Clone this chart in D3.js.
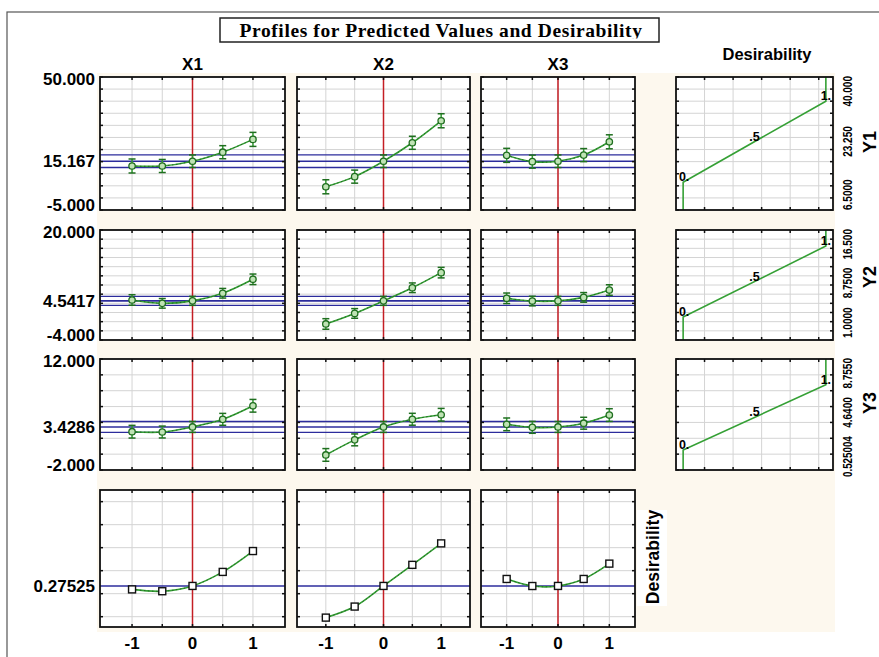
<!DOCTYPE html>
<meta charset="utf-8">
<script src="https://d3js.org/d3.v7.min.js"></script>
<style>
  body { margin: 0; background: #fff; }
  text { font-family: "Liberation Sans", Arial, sans-serif; }
</style>
<svg id="chart" width="879" height="657"></svg>
<script>

// factor levels and names
var levels = [-1, -0.5, 0, 0.5, 1];
var factors = ["X1", "X2", "X3"];
var responses = ["Y1", "Y2", "Y3"];
var xTickLabels = ["-1", "0", "1"];

// predicted values, one array per factor (X1, X2, X3)
var y1Pred = [[13.2, 13.2, 15.167, 18.9, 24.2], [4.6, 8.8, 15.167, 22.8, 31.9], [17.6, 15.0, 15.167, 17.7, 23.2]];
var y2Pred = [[4.73, 4.0, 4.5417, 6.2, 9.24], [-0.5, 1.8, 4.5417, 7.4, 10.7], [5.1, 4.5, 4.5417, 5.3, 6.9]];
var y3Pred = [[2.83, 2.79, 3.4286, 4.39, 6.1], [-0.1, 1.8, 3.4286, 4.4, 4.97], [3.76, 3.38, 3.4286, 3.9, 4.93]];

// confidence half-widths at each level
var y1Err = [2.9, 2.7, 2.6, 2.7, 2.9];
var y2Err = [1.15, 1.05, 0.98, 1.05, 1.15];
var y3Err = [0.8, 0.75, 0.69, 0.75, 0.8];

// current predicted values and their confidence half-widths
var currentValues = [15.167, 4.5417, 3.4286];
var currentCI = [2.6, 0.98, 0.69];
var currentLabels = ["15.167", "4.5417", "3.4286"];

// axis ranges, grid steps and end labels of each response
var yDomains = [[-5, 50], [-4, 20], [-2, 12]];
var yGridSteps = [5, 2, 2];
var yTopLabels = ["50.000", "20.000", "12.000"];
var yBottomLabels = ["-5.000", "-4.000", "-2.000"];

// desirability function: response at d = 0 and at d = 1
var desLow = [6.5, 1.0, 0.525004];
var desHigh = [40.0, 16.5, 8.755];
var desAxisLabels = [["6.5000", "23.250", "40.000"], ["1.0000", "8.7500", "16.500"], ["0.525004", "4.6400", "8.7550"]];
var desPointLabels = ["0.", ".5", "1."];

// overall desirability, one array per factor
var desirability = [[0.264, 0.258, 0.27525, 0.321, 0.389], [0.172, 0.208, 0.27525, 0.344, 0.414], [0.298, 0.275, 0.27525, 0.298, 0.348]];
var desCurrent = 0.27525;
var desCurrentLabel = "0.27525";
var desDomain = [0.1414, 0.588];
var desGrid = [0.175, 0.25, 0.325, 0.40, 0.475, 0.55];

var svg = d3.select("#chart");

// layout
var colX = [[100, 285], [297, 470], [481, 635]];
var colDomain = [[-1.53, 1.53], [-1.5, 1.5], [-1.5, 1.5]];
var rowY = [[77, 210], [230, 340], [359, 470], [490, 627]];
var desX = [676, 833];
var yNameY = [142, 277, 403];
var bottomShift = [0, -2, 7];

var green = "#35a035", dark = "#111", grid = "#d4d4d4", blue = "#2c2c9c", red = "#c41e24";

// outer frame
svg.append("rect").attr("x", 7).attr("y", 12).attr("width", 900).attr("height", 700)
  .attr("fill", "none").attr("stroke", "#555").attr("stroke-width", 1.2);

// cream plot area
svg.append("rect").attr("x", 97).attr("y", 73).attr("width", 738).attr("height", 559).attr("fill", "#fdf8ee");
svg.append("rect").attr("x", 637).attr("y", 510).attr("width", 30).attr("height", 96).attr("fill", "#fff");

// title
svg.append("rect").attr("x", 220).attr("y", 18).attr("width", 439).attr("height", 24)
  .attr("fill", "#fff").attr("stroke", "#222").attr("stroke-width", 1.5);
svg.append("clipPath").attr("id", "titleClip").append("rect")
  .attr("x", 220).attr("y", 18).attr("width", 439).attr("height", 20.5);
svg.append("text").attr("x", 441).attr("y", 37).attr("text-anchor", "middle")
  .attr("clip-path", "url(#titleClip)")
  .style("font-family", "'Liberation Serif', 'Times New Roman', serif")
  .style("font-weight", "bold").style("font-size", "19.5px").style("letter-spacing", "0.6px")
  .text("Profiles for Predicted Values and Desirability");

// column headers
factors.forEach(function(f, i) {
  svg.append("text").attr("x", (colX[i][0] + colX[i][1]) / 2).attr("y", 70)
    .attr("text-anchor", "middle").style("font-weight", "bold").style("font-size", "17px").text(f);
});
svg.append("text").attr("x", 767).attr("y", 60).attr("text-anchor", "middle")
  .style("font-weight", "bold").style("font-size", "16.5px").text("Desirability");

function panelFrame(g, x, y, xGrid, yGrid, x0, x1, y0, y1) {
  g.append("rect").attr("x", x0).attr("y", y0).attr("width", x1 - x0).attr("height", y1 - y0).attr("fill", "#fff");
  g.selectAll(".vg").data(xGrid).enter().append("line")
    .attr("x1", function(d) { return x(d); }).attr("x2", function(d) { return x(d); })
    .attr("y1", y0).attr("y2", y1).attr("stroke", grid).attr("stroke-width", 1);
  g.selectAll(".hg").data(yGrid).enter().append("line")
    .attr("y1", function(d) { return y(d); }).attr("y2", function(d) { return y(d); })
    .attr("x1", x0).attr("x2", x1).attr("stroke", grid).attr("stroke-width", 1);
}

function panelBorder(g, x, y, xGrid, yGrid, x0, x1, y0, y1) {
  var t = 3;
  xGrid.forEach(function(d) {
    g.append("line").attr("x1", x(d)).attr("x2", x(d)).attr("y1", y0).attr("y2", y0 + t).attr("stroke", dark).attr("stroke-width", 1.5);
    g.append("line").attr("x1", x(d)).attr("x2", x(d)).attr("y1", y1).attr("y2", y1 - t).attr("stroke", dark).attr("stroke-width", 1.5);
  });
  yGrid.forEach(function(d) {
    g.append("line").attr("y1", y(d)).attr("y2", y(d)).attr("x1", x0).attr("x2", x0 + t).attr("stroke", dark).attr("stroke-width", 1.5);
    g.append("line").attr("y1", y(d)).attr("y2", y(d)).attr("x1", x1).attr("x2", x1 - t).attr("stroke", dark).attr("stroke-width", 1.5);
  });
  g.append("rect").attr("x", x0).attr("y", y0).attr("width", x1 - x0).attr("height", y1 - y0)
    .attr("fill", "none").attr("stroke", dark).attr("stroke-width", 1.8);
}

var preds = [y1Pred, y2Pred, y3Pred];
var errs = [y1Err, y2Err, y3Err];

// response rows
responses.forEach(function(resp, r) {
  var y0 = rowY[r][0], y1 = rowY[r][1];
  var y = d3.scaleLinear().domain(yDomains[r]).range([y1, y0]);
  var yGrid = d3.range(yDomains[r][0], yDomains[r][1] + 1e-9, yGridSteps[r]);

  factors.forEach(function(f, c) {
    var x0 = colX[c][0], x1 = colX[c][1];
    var x = d3.scaleLinear().domain(colDomain[c]).range([x0, x1]);
    var g = svg.append("g");
    panelFrame(g, x, y, levels, yGrid, x0, x1, y0, y1);

    // current value and its confidence band
    [currentValues[r] + currentCI[r], currentValues[r], currentValues[r] - currentCI[r]].forEach(function(v, k) {
      g.append("line").attr("x1", x0).attr("x2", x1).attr("y1", y(v)).attr("y2", y(v))
        .attr("stroke", blue).attr("stroke-width", k == 1 ? 1.6 : 1.3);
    });
    g.append("line").attr("x1", x(0)).attr("x2", x(0)).attr("y1", y0).attr("y2", y1)
      .attr("stroke", red).attr("stroke-width", 1.5);

    var pts = levels.map(function(l, i) { return { x: l, v: preds[r][c][i], e: errs[r][i] }; });
    var line = d3.line().x(function(d) { return x(d.x); }).y(function(d) { return y(d.v); })
      .curve(d3.curveCatmullRom.alpha(0.5));
    g.append("path").attr("d", line(pts)).attr("fill", "none").attr("stroke", green).attr("stroke-width", 1.6);
    g.append("path").attr("d", line(pts)).attr("fill", "none").attr("stroke", "#1c5a1c")
      .attr("stroke-width", 0.8).attr("stroke-dasharray", "1.5,2.5");

    // error bars
    pts.forEach(function(d) {
      var cx = x(d.x);
      g.append("line").attr("x1", cx).attr("x2", cx).attr("y1", y(d.v + d.e)).attr("y2", y(d.v - d.e))
        .attr("stroke", green).attr("stroke-width", 1.5);
      [d.v + d.e, d.v - d.e].forEach(function(v) {
        g.append("line").attr("x1", cx - 3.5).attr("x2", cx + 3.5).attr("y1", y(v)).attr("y2", y(v))
          .attr("stroke", "#1f6e1f").attr("stroke-width", 1.5);
      });
    });
    g.selectAll(".pt").data(pts).enter().append("circle")
      .attr("cx", function(d) { return x(d.x); }).attr("cy", function(d) { return y(d.v); })
      .attr("r", 3.2).attr("fill", "#bfe3b4").attr("stroke", "#1f6e1f").attr("stroke-width", 1.3);

    panelBorder(g, x, y, levels, yGrid, x0, x1, y0, y1);
  });

  // left labels
  svg.append("text").attr("x", 95).attr("y", y0 + 8).attr("text-anchor", "end")
    .style("font-weight", "bold").style("font-size", "17px").text(yTopLabels[r]);
  svg.append("text").attr("x", 95).attr("y", y1 + 1).attr("text-anchor", "end")
    .style("font-weight", "bold").style("font-size", "17px").text(yBottomLabels[r]);
  svg.append("text").attr("x", 95).attr("y", y(currentValues[r])).attr("dy", "0.36em").attr("text-anchor", "end")
    .style("font-weight", "bold").style("font-size", "17px").text(currentLabels[r]);

  // desirability function panel
  var dx = d3.scaleLinear().domain([-0.05, 1.05]).range(desX);
  var dGrid = [0.15, 0.35, 0.55, 0.75, 0.95];
  var dg = svg.append("g");
  panelFrame(dg, dx, y, dGrid, yGrid, desX[0], desX[1], y0, y1);
  var fn = [[0, yDomains[r][0]], [0, desLow[r]], [1, desHigh[r]], [1, yDomains[r][1]]];
  dg.append("path").attr("d", d3.line().x(function(d) { return dx(d[0]); }).y(function(d) { return y(d[1]); })(fn))
    .attr("fill", "none").attr("stroke", green).attr("stroke-width", 1.6);
  [[0, desLow[r]], [0.5, (desLow[r] + desHigh[r]) / 2], [1, desHigh[r]]].forEach(function(p, k) {
    dg.append("text").attr("x", dx(p[0]) + (k == 0 ? 1 : 0)).attr("y", y(p[1]) - 1).attr("text-anchor", "middle")
      .style("font-weight", "bold").style("font-size", "12.5px").text(desPointLabels[k]);
  });
  panelBorder(dg, dx, y, dGrid, yGrid, desX[0], desX[1], y0, y1);

  // rotated labels on the right (condensed with textLength)
  var anchors = ["start", "middle", "end"];
  var pos = [y1 + bottomShift[r], (y0 + y1) / 2 - 2, y0 - 1];
  desAxisLabels[r].forEach(function(t, k) {
    svg.append("text").attr("transform", "translate(852," + pos[k] + ") rotate(-90)")
      .attr("text-anchor", anchors[k])
      .attr("textLength", t.length * 5.1).attr("lengthAdjust", "spacingAndGlyphs")
      .style("font-weight", "bold").style("font-size", "13.5px").text(t);
  });
  svg.append("text").attr("transform", "translate(876," + yNameY[r] + ") rotate(-90)")
    .attr("text-anchor", "middle").style("font-weight", "bold").style("font-size", "18px").text(resp);
});

// desirability row
var dy0 = rowY[3][0], dy1 = rowY[3][1];
var dyScale = d3.scaleLinear().domain(desDomain).range([dy1, dy0]);
factors.forEach(function(f, c) {
  var x0 = colX[c][0], x1 = colX[c][1];
  var x = d3.scaleLinear().domain(colDomain[c]).range([x0, x1]);
  var g = svg.append("g");
  panelFrame(g, x, dyScale, levels, desGrid, x0, x1, dy0, dy1);
  g.append("line").attr("x1", x0).attr("x2", x1).attr("y1", dyScale(desCurrent)).attr("y2", dyScale(desCurrent))
    .attr("stroke", blue).attr("stroke-width", 1.6);
  g.append("line").attr("x1", x(0)).attr("x2", x(0)).attr("y1", dy0).attr("y2", dy1)
    .attr("stroke", red).attr("stroke-width", 1.5);
  var pts = levels.map(function(l, i) { return { x: l, v: desirability[c][i] }; });
  var line = d3.line().x(function(d) { return x(d.x); }).y(function(d) { return dyScale(d.v); })
    .curve(d3.curveCatmullRom.alpha(0.5));
  g.append("path").attr("d", line(pts)).attr("fill", "none").attr("stroke", green).attr("stroke-width", 1.6);
  g.append("path").attr("d", line(pts)).attr("fill", "none").attr("stroke", "#1c5a1c")
    .attr("stroke-width", 0.8).attr("stroke-dasharray", "1.5,2.5");
  g.selectAll(".sq").data(pts).enter().append("rect")
    .attr("x", function(d) { return x(d.x) - 3.5; }).attr("y", function(d) { return dyScale(d.v) - 3.5; })
    .attr("width", 7).attr("height", 7).attr("fill", "#fff").attr("stroke", dark).attr("stroke-width", 1.4);
  panelBorder(g, x, dyScale, levels, desGrid, x0, x1, dy0, dy1);

  // x tick labels
  [-1, 0, 1].forEach(function(v, k) {
    svg.append("text").attr("x", x(v)).attr("y", 649).attr("text-anchor", "middle")
      .style("font-weight", "bold").style("font-size", "17px").text(xTickLabels[k]);
  });
});
svg.append("text").attr("x", 95).attr("y", dyScale(desCurrent)).attr("dy", "0.36em").attr("text-anchor", "end")
  .style("font-weight", "bold").style("font-size", "17px").text(desCurrentLabel);
svg.append("text").attr("transform", "translate(653,557) rotate(-90)").attr("dy", "0.36em")
  .attr("text-anchor", "middle").style("font-weight", "bold").style("font-size", "17.5px").text("Desirability");

</script>
